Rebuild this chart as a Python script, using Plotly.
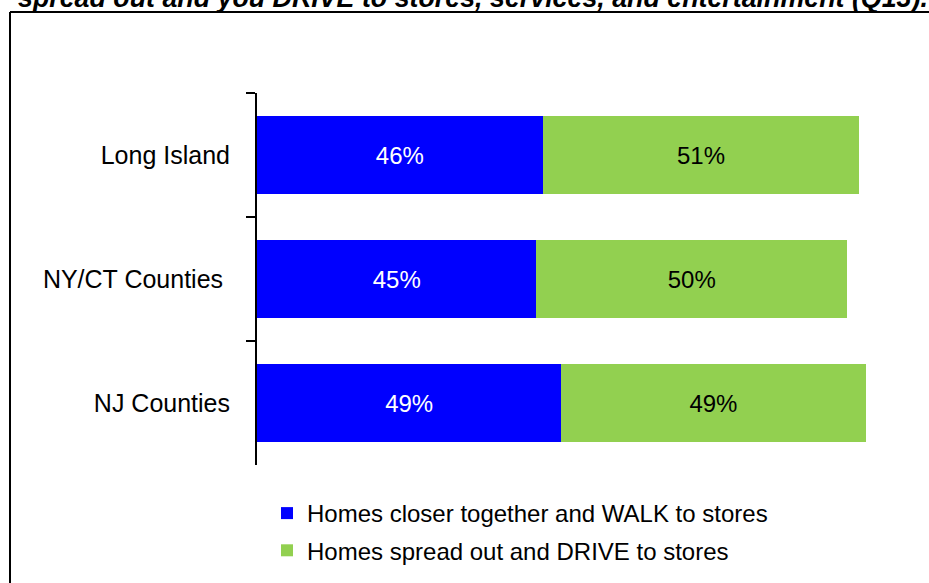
import plotly.graph_objects as go

regioes = ["Long Island", "NY/CT Counties\u00a0", "NJ Counties"]
walk = [46, 45, 49]
drive = [51, 50, 49]
serie_walk = "Homes closer together and WALK to stores"
serie_drive = "Homes spread out and DRIVE to stores"
titulo = "spread out and you DRIVE to stores, services, and entertainment (Q13)."

W, H = 929, 583
ML, MR, MT, MB = 257, 51, 93, 118
PW, PH = W - ML - MR, H - MT - MB


def px_x(x):
    return (x - ML) / PW


def px_y(y):
    return 1 - (y - MT) / PH


fig = go.Figure()

fig.add_trace(go.Bar(
    y=regioes, x=walk, orientation="h", name=serie_walk,
    marker=dict(color="#0000FF", line=dict(width=0)),
    text=[f"{v}%" for v in walk], textposition="inside", insidetextanchor="middle",
    textfont=dict(color="white", size=24), legendgroup="a",
))
fig.add_trace(go.Bar(
    y=regioes, x=drive, orientation="h", name=serie_drive,
    marker=dict(color="#92D050", line=dict(width=0)),
    text=[f"{v}%" for v in drive], textposition="inside", insidetextanchor="middle",
    textfont=dict(color="black", size=24), legendgroup="b",
))

fig.update_layout(
    width=W, height=H,
    margin=dict(l=ML, r=MR, t=MT, b=MB, autoexpand=False),
    barmode="stack", bargap=0.37,
    plot_bgcolor="white", paper_bgcolor="white",
    font=dict(family="Liberation Sans, Arial, sans-serif", color="black"),
    showlegend=True,
    legend=dict(
        x=px_x(267), y=px_y(491), xanchor="left", yanchor="top",
        font=dict(size=24), tracegroupgap=3, bgcolor="rgba(0,0,0,0)",
    ),
    uniformtext=dict(mode="show", minsize=10),
)

fig.update_xaxes(range=[0, 100], visible=False, fixedrange=True)
fig.update_yaxes(
    categoryorder="array", categoryarray=regioes, autorange="reversed",
    showline=True, linecolor="black", linewidth=2,
    ticks="outside", ticklen=9, tickwidth=2, tickcolor="black",
    tickson="boundaries", ticklabelstandoff=20,
    tickfont=dict(size=25), showgrid=False, zeroline=False,
)

# moldura cortada (topo e esquerda)
fig.add_shape(type="line", xref="paper", yref="paper",
              x0=px_x(10), x1=px_x(935), y0=px_y(12), y1=px_y(12),
              line=dict(color="black", width=2))
fig.add_shape(type="line", xref="paper", yref="paper",
              x0=px_x(10), x1=px_x(10), y0=px_y(12), y1=px_y(590),
              line=dict(color="black", width=2))

# titulo cortado no topo
fig.add_annotation(
    text=f"<b><i>{titulo}</i></b>", xref="paper", yref="paper",
    x=px_x(16), y=px_y(-2), xanchor="left", yanchor="middle",
    showarrow=False, font=dict(size=26.8, color="black"),
)

fig.write_html("out.html", config={"displayModeBar": False},
               post_script="document.body.style.margin='0';")
